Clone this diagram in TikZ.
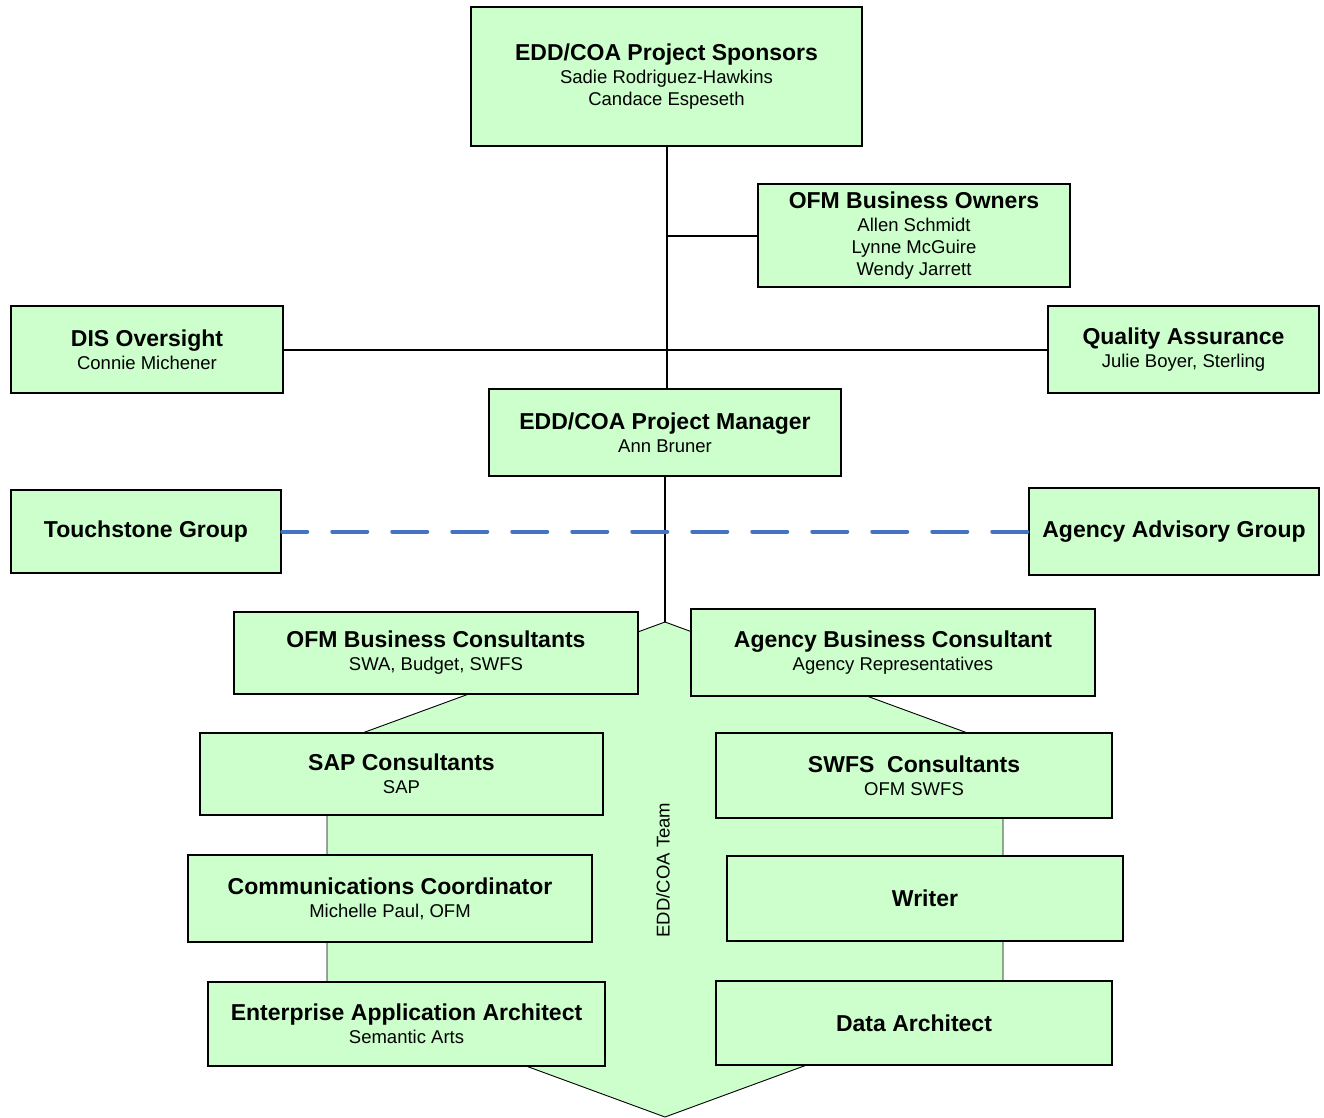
\documentclass[tikz,border=0pt]{standalone}
\usepackage{fontspec}
\setmainfont{Liberation Sans}
\definecolor{boxgreen}{HTML}{CCFFCC}
\definecolor{dashblue}{HTML}{4472C4}
\newcommand\ttl[1]{{\fontsize{23}{22}\selectfont\bfseries #1}}
\tikzset{
  box/.style={draw=black, line width=2.5pt, fill=boxgreen, inner sep=0pt, align=center,
    font=\fontsize{18.5}{22}\selectfont},
  link/.style={draw=black, line width=2pt},
  dotted link/.style={draw=dashblue, line width=4pt, line cap=round, dash pattern=on 35pt off 25pt, dash phase=10pt},
  team/.style={fill=boxgreen, draw=black, line width=0.9pt}
}
\begin{document}
\begin{tikzpicture}[x=1pt,y=-1pt]
\useasboundingbox (0,0) rectangle (1324,1118);
% team background
\path[team] (665,622) -- (1003,746) -- (1003,993) -- (665,1117) -- (327,993) -- (327,746) -- cycle;
\node[rotate=90, font=\fontsize{18.5}{22}\selectfont] (teamlbl) at (663,870) {EDD/COA Team};

\node[box, minimum width=391pt, minimum height=139pt] (spons) at (666.5,76.5)
  {\ttl{EDD/COA Project Sponsors}\\[1pt]Sadie Rodriguez-Hawkins\\Candace Espeseth};
\node[box, minimum width=312pt, minimum height=103pt] (owners) at (914,235.5)
  {\ttl{OFM Business Owners}\\[1pt]Allen Schmidt\\Lynne McGuire\\Wendy Jarrett};
\node[box, minimum width=272pt, minimum height=87pt] (dis) at (147,349.5)
  {\ttl{DIS Oversight}\\[1pt]Connie Michener};
\node[box, minimum width=271pt, minimum height=87pt] (qa) at (1183.5,349.5)
  {\ttl{Quality Assurance}\\[1pt]Julie Boyer, Sterling};
\node[box, minimum width=352pt, minimum height=87pt] (pm) at (665,432.5)
  {\ttl{EDD/COA Project Manager}\\[1pt]Ann Bruner};
\node[box, minimum width=270pt, minimum height=83pt] (touch) at (146,531.5)
  {\ttl{Touchstone Group}};
\node[box, minimum width=290pt, minimum height=87pt] (aag) at (1174,531.5)
  {\ttl{Agency Advisory Group}};
\node[box, minimum width=404pt, minimum height=82pt] (ofmbc) at (436,653)
  {\ttl{OFM Business Consultants}\\[1pt]SWA, Budget, SWFS};
\node[box, minimum width=404pt, minimum height=87pt] (abc) at (893,652.5)
  {\ttl{Agency Business Consultant}\\[1pt]Agency Representatives};
\node[box, minimum width=403pt, minimum height=82pt] (sap) at (401.5,774)
  {\ttl{SAP Consultants}\\[1pt]SAP};
\node[box, minimum width=396pt, minimum height=85pt] (swfs) at (914,775.5)
  {\ttl{SWFS\ \ Consultants}\\[1pt]OFM SWFS};
\node[box, minimum width=404pt, minimum height=87pt] (comm) at (390,898.5)
  {\ttl{Communications Coordinator}\\[1pt]Michelle Paul, OFM};
\node[box, minimum width=396pt, minimum height=85pt] (writer) at (925,898.5)
  {\ttl{Writer}};
\node[box, minimum width=397pt, minimum height=84pt] (eaa) at (406.5,1024)
  {\ttl{Enterprise Application Architect}\\[1pt]Semantic Arts};
\node[box, minimum width=396pt, minimum height=84pt] (data) at (914,1023)
  {\ttl{Data Architect}};

\coordinate (teamtop) at (665,622);
\coordinate (ownbr) at (spons.south |- owners.west);
\draw[link] (spons.south) -- (spons.south |- pm.north);
\draw[link] (ownbr) -- (owners.west);
\draw[link] (dis.east) -- (qa.west);
\draw[link] (pm.south) -- (teamtop);
\draw[dotted link] (touch.east) -- (aag.west |- touch.east);
\end{tikzpicture}
\end{document}
